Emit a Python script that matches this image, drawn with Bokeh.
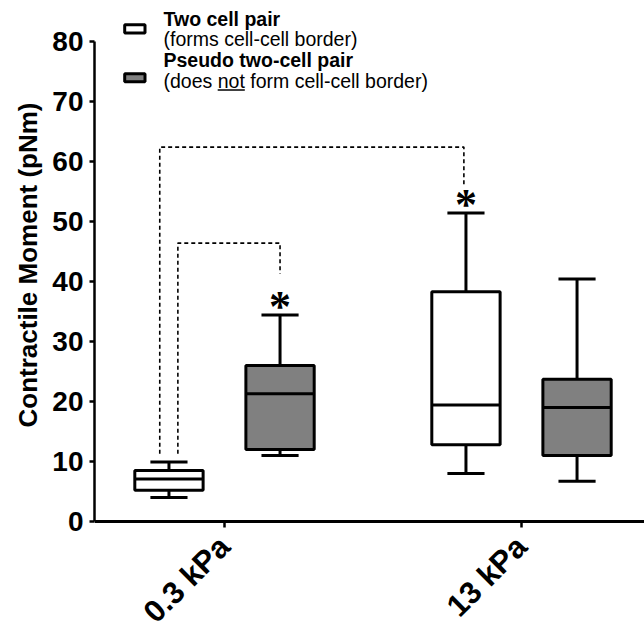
import math
from bokeh.plotting import figure
from bokeh.models import Range1d, FixedTicker, Label, ColumnDataSource, Title
from bokeh.embed import file_html
from bokeh.resources import INLINE

# ---------------- data ----------------
groups = ["0.3 kPa", "13 kPa"]
y_ticks = [0, 10, 20, 30, 40, 50, 60, 70, 80]

series_names = ["Two cell pair", "Pseudo two-cell pair"]
series_notes = ["(forms cell-cell border)", "(does not form cell-cell border)"]

two_lower = [4.0, 8.0]
two_q1 = [5.2, 12.8]
two_median = [7.1, 19.4]
two_q3 = [8.5, 38.3]
two_upper = [9.9, 51.4]

pseudo_lower = [11.0, 6.7]
pseudo_q1 = [12.0, 11.0]
pseudo_median = [21.3, 19.0]
pseudo_q3 = [26.0, 23.7]
pseudo_upper = [34.4, 40.4]

# ---------------- layout ----------------
W, H = 644, 631
FL = 94
AXIS_Y = 521          # pixel row of the x axis
PXU = 297.0           # pixels per category unit
PYU = 6.0             # pixels per y unit
X0 = 1 - 130 / PXU
X1 = X0 + (W - FL) / PXU
Y0 = -(H - AXIS_Y) / PYU
Y1 = AXIS_Y / PYU
FONT = "Liberation Sans"
TXT_SHIFT = 6.5       # renderer draws alphabetic text slightly low

def ix(px):   # image x pixel -> data x
    return 1 + (px - 224) / PXU

def iy(py):   # image y pixel -> data y
    return (AXIS_Y - py) / PYU

p = figure(width=W, height=H, output_backend="svg", toolbar_location=None,
           x_range=Range1d(X0, X1), y_range=Range1d(Y0, Y1),
           min_border_left=FL, min_border_right=0, min_border_top=0,
           min_border_bottom=0)
p.outline_line_color = None
p.grid.visible = False
p.background_fill_color = "white"
p.border_fill_color = "white"

# axes
xa = p.xaxis[0]
xa.fixed_location = 0
xa.ticker = FixedTicker(ticks=[i + 1 for i in range(len(groups))])
xa.major_label_overrides = {i + 1: g for i, g in enumerate(groups)}
xa.major_label_orientation = math.pi / 4
xa.major_label_text_font = FONT
xa.major_label_text_font_style = "bold"
xa.major_label_text_font_size = "31px"
xa.major_label_text_color = "black"
xa.major_label_standoff = 14
xa.axis_line_width = 3
xa.axis_line_color = "black"
xa.major_tick_line_width = 2.5
xa.major_tick_line_color = "black"
xa.major_tick_out = 6
xa.major_tick_in = 0
xa.minor_tick_line_color = None

ya = p.yaxis[0]
ya.ticker = FixedTicker(ticks=y_ticks)
ya.bounds = (y_ticks[0], y_ticks[-1])
ya.major_label_text_font = FONT
ya.major_label_text_font_style = "bold"
ya.major_label_text_font_size = "28px"
ya.major_label_text_color = "black"
ya.major_label_standoff = 6
ya.axis_line_width = 2.5
ya.axis_line_color = "black"
ya.major_tick_line_width = 2.5
ya.major_tick_line_color = "black"
ya.major_tick_out = 5
ya.major_tick_in = 0
ya.minor_tick_line_color = None

p.add_layout(Title(text="Contractile Moment (pNm)", align="left", offset=H - 427,
                   standoff=14,
                   text_font=FONT, text_font_style="bold", text_font_size="26px",
                   text_color="black"), "left")

# ---------------- boxes ----------------
OFF = 0.187
BOXW = 0.23
CAPW = 0.125

def draw_box(lower, q1, med, q3, upper, offset, fill):
    xs = [i + 1 + offset for i in range(len(groups))]
    src = ColumnDataSource(dict(
        x=xs, left=[x - BOXW / 2 for x in xs], right=[x + BOXW / 2 for x in xs],
        cl=[x - CAPW / 2 for x in xs], cr=[x + CAPW / 2 for x in xs],
        lower=lower, q1=q1, med=med, q3=q3, upper=upper))
    p.segment(x0="x", y0="q3", x1="x", y1="upper", source=src, line_color="black", line_width=3)
    p.segment(x0="x", y0="q1", x1="x", y1="lower", source=src, line_color="black", line_width=3)
    p.segment(x0="cl", y0="upper", x1="cr", y1="upper", source=src, line_color="black", line_width=3)
    p.segment(x0="cl", y0="lower", x1="cr", y1="lower", source=src, line_color="black", line_width=3)
    p.quad(left="left", right="right", bottom="q1", top="q3", source=src,
           fill_color=fill, line_color="black", line_width=3)
    p.segment(x0="left", y0="med", x1="right", y1="med", source=src, line_color="black", line_width=3)
    return xs

two_x = draw_box(two_lower, two_q1, two_median, two_q3, two_upper, -OFF, "white")
pseudo_x = draw_box(pseudo_lower, pseudo_q1, pseudo_median, pseudo_q3, pseudo_upper, OFF, "#808080")

# ---------------- significance brackets ----------------
base_y = two_upper[0] + 1.4
inner_left = two_x[0] + 0.03
outer_left = two_x[0] - 0.031
p.line(x=[inner_left, inner_left, pseudo_x[0], pseudo_x[0]],
       y=[base_y, 46.4, 46.4, pseudo_upper[0] + 6.9],
       line_color="black", line_width=1.6, line_dash="4 3")
p.line(x=[outer_left, outer_left, two_x[1] - 0.007, two_x[1] - 0.007],
       y=[base_y, 62.4, 62.4, two_upper[1] + 4.6],
       line_color="black", line_width=1.6, line_dash="4 3")

p.text(x=[pseudo_x[0], two_x[1]], y=[pseudo_upper[0], two_upper[1]], text=["*", "*"],
       y_offset=-9, text_align="center", text_baseline="alphabetic",
       text_font=FONT, text_font_style="bold", text_font_size="44px", text_color="black")

# ---------------- legend ----------------
p.quad(left=[ix(124.2), ix(124.2)], right=[ix(144.5), ix(144.5)],
       top=[iy(24.2), iy(73.2)], bottom=[iy(32.5), iy(81.2)],
       fill_color=["white", "#808080"], line_color="black", line_width=3)

LFS = 19.5
tx = ix(163)
baselines = [25, 45, 66, 87]
for i in range(2):
    p.add_layout(Label(x=tx, y=iy(baselines[2 * i] - TXT_SHIFT), text=series_names[i],
                       text_align="left", text_baseline="alphabetic",
                       text_font=FONT, text_font_style="bold", text_font_size=f"{LFS}px",
                       text_color="black"))
    p.add_layout(Label(x=tx, y=iy(baselines[2 * i + 1] - TXT_SHIFT), text=series_notes[i],
                       text_align="left", text_baseline="alphabetic",
                       text_font=FONT, text_font_size=f"{LFS}px", text_color="black"))

# underline "not"
u0 = 163 + 2.779 * LFS
u1 = u0 + 1.39 * LFS
uy = iy(baselines[3] + 2.5)
p.segment(x0=[ix(u0)], y0=[uy], x1=[ix(u1)], y1=[uy], line_color="black", line_width=1.3)

open("out.html", "w").write(file_html(p, INLINE))
